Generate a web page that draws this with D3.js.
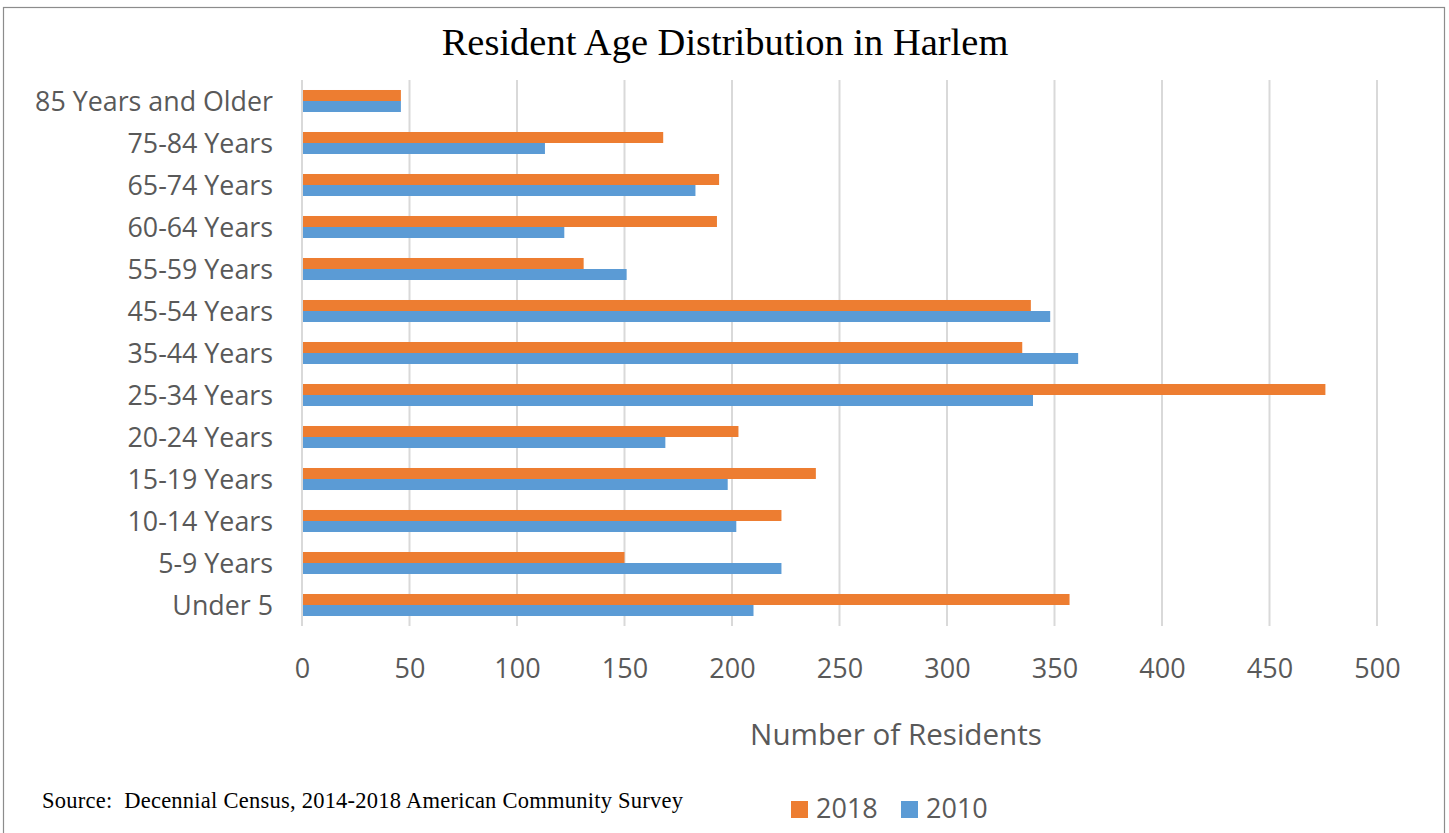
<!DOCTYPE html>
<html><head><meta charset="utf-8">
<script src="https://cdn.jsdelivr.net/npm/d3@7/dist/d3.min.js"></script>
<style>body{margin:0;background:#fff;}svg{display:block;}</style>
</head><body>
<svg id="c" width="1449" height="833"></svg>
<script>
const categories = ["85 Years and Older","75-84 Years","65-74 Years","60-64 Years","55-59 Years","45-54 Years","35-44 Years","25-34 Years","20-24 Years","15-19 Years","10-14 Years","5-9 Years","Under 5"];
const series = ["2018","2010"];
const values2018 = [46,168,194,193,131,339,335,476,203,239,223,150,357];
const values2010 = [46,113,183,122,151,348,361,340,169,198,202,223,210];
const xTicks = [0,50,100,150,200,250,300,350,400,450,500];
const colors = {"2018":"#ED7D31","2010":"#5B9BD5"};

const svg = d3.select("#c");
const textColor = "#595959";
const sans = "'Open Sans', sans-serif";
const serif = "'Liberation Serif', 'Times New Roman', serif";

// border
svg.append("rect").attr("x",3.5).attr("y",7.5).attr("width",1441).attr("height",840)
  .attr("fill","none").attr("stroke","#8c8c8c").attr("stroke-width",1.2);

const x = d3.scaleLinear().domain([0,500]).range([302,1377]);
const y0 = d3.scaleBand().domain(categories).range([80,626]).paddingInner(0.476).paddingOuter(0.238);
const y1 = d3.scaleBand().domain(series).range([0,y0.bandwidth()]);

// gridlines
svg.append("g").selectAll("line").data(xTicks).join("line")
  .attr("x1",d=>x(d)).attr("x2",d=>x(d)).attr("y1",80).attr("y2",626)
  .attr("stroke","#d9d9d9").attr("stroke-width",2);

// bars
const data = categories.map((c,i)=>({cat:c, vals:[{s:"2018",v:values2018[i]},{s:"2010",v:values2010[i]}]}));
const g = svg.append("g").selectAll("g").data(data).join("g")
  .attr("transform",d=>`translate(0,${y0(d.cat)})`);
g.selectAll("rect").data(d=>d.vals).join("rect")
  .attr("x",x(0)+1).attr("y",d=>y1(d.s)).attr("height",y1.bandwidth())
  .attr("width",d=>x(d.v)-x(0)-1).attr("fill",d=>colors[d.s]);

// x axis
const xAxis = d3.axisBottom(x).tickValues(xTicks).tickSize(0).tickPadding(0);
const ax = svg.append("g").attr("transform","translate(0,678)").call(xAxis);
ax.select(".domain").remove();
ax.selectAll("text").attr("dy",0).attr("fill",textColor).style("font-family",sans).style("font-size","27px");

// y axis
const yAxis = d3.axisLeft(y0).tickSize(0).tickPadding(0);
const ay = svg.append("g").attr("transform","translate(273,0)").call(yAxis);
ay.select(".domain").remove();
ay.selectAll("text").attr("dy","0.36em").attr("fill",textColor).style("font-family",sans).style("font-size","26.8px");

// title
svg.append("text").attr("x",725).attr("y",55).attr("text-anchor","middle")
  .attr("fill","#000").style("font-family",serif).style("font-size","38.5px")
  .text("Resident Age Distribution in Harlem");

// axis title
svg.append("text").attr("x",896).attr("y",745).attr("text-anchor","middle")
  .attr("fill",textColor).style("font-family",sans).style("font-size","29.6px")
  .text("Number of Residents");

// source
svg.append("text").attr("x",42).attr("y",808)
  .attr("fill","#000").style("font-family",serif).style("font-size","22.5px")
  .style("white-space","pre").attr("xml:space","preserve")
  .attr("textLength",641).attr("lengthAdjust","spacing")
  .text("Source:  Decennial Census, 2014-2018 American Community Survey");

// legend
const legX = [791, 901];
const leg = svg.append("g").selectAll("g").data(series).join("g")
  .attr("transform",(d,i)=>`translate(${legX[i]},801)`);
leg.append("rect").attr("width",17).attr("height",17).attr("fill",d=>colors[d]);
leg.append("text").attr("x",25).attr("y",17).attr("fill",textColor)
  .style("font-family",sans).style("font-size","27px").text(d=>d);
</script>
</body></html>
